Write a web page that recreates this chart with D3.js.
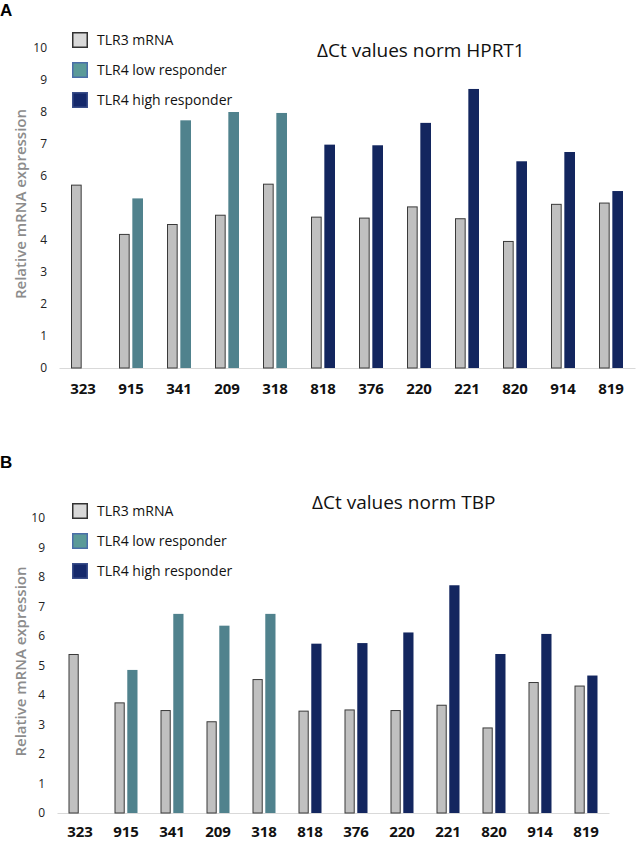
<!DOCTYPE html>
<html>
<head>
<meta charset="utf-8">
<script src="https://cdn.jsdelivr.net/npm/d3@7"></script>
<style>
  body { margin: 0; background: #fff; }
  text { font-family: "Open Sans", "Noto Sans", sans-serif; }
</style>
</head>
<body>
<div id="chart"></div>
<script>
// sample ids on the x axis
const samples = ["323", "915", "341", "209", "318", "818", "376", "220", "221", "820", "914", "819"];
// which TLR4 group each sample belongs to (323 has no TLR4 bar)
const responder = ["none", "low", "low", "low", "low", "high", "high", "high", "high", "high", "high", "high"];
// panel A: normalised to HPRT1
const tlr3Hprt = [5.73, 4.19, 4.50, 4.79, 5.76, 4.73, 4.70, 5.05, 4.68, 3.97, 5.13, 5.17];
const tlr4Hprt = [null, 5.30, 7.74, 8.00, 7.97, 6.98, 6.96, 7.66, 8.72, 6.46, 6.75, 5.53];
// panel B: normalised to TBP
const tlr3Tbp = [5.39, 3.75, 3.49, 3.11, 4.54, 3.47, 3.51, 3.49, 3.67, 2.90, 4.44, 4.32];
const tlr4Tbp = [null, 4.85, 6.75, 6.35, 6.75, 5.74, 5.76, 6.12, 7.72, 5.39, 6.07, 4.66];
const yTicks = [0, 1, 2, 3, 4, 5, 6, 7, 8, 9, 10];
const legendLabels = ["TLR3 mRNA", "TLR4 low responder", "TLR4 high responder"];

const width = 636, height = 843;
const svg = d3.select("#chart").append("svg")
  .attr("width", width).attr("height", height);

const barFill = { tlr3: "#c0c0c0", low: "#50828d", high: "#13265f" };
const legFill = ["#dadada", "#5b9a98", "#15296b"];
const legStroke = ["#333", "#4a6ea8", "#3a4e8a"];

const drawPanel = (cfg) => {
  let g = svg.append("g");
  let y = d3.scaleLinear().domain([0, 10]).range([cfg.y0, cfg.y10]);
  let x0 = d3.scaleBand().domain(samples).range([cfg.xl, cfg.xr])
    .paddingInner(0.5).paddingOuter(0.25);
  let x1 = d3.scaleBand().domain(["tlr3", "tlr4"]).range([0, x0.bandwidth()]).paddingInner(0.2);

  // panel letter
  g.append("text").attr("x", 0).attr("y", cfg.letterY)
    .style("font-family", "'Liberation Sans', Arial, sans-serif")
    .style("font-weight", "bold").style("font-size", "17px")
    .text(cfg.letter);

  // title
  g.append("text").attr("x", cfg.titleX).attr("y", cfg.titleY)
    .style("font-size", "19px").attr("fill", "#111")
    .text(cfg.title);

  // y axis (labels only)
  let yAxis = g.append("g").attr("transform", "translate(" + cfg.xl + ",0)")
    .call(d3.axisLeft(y).tickValues(yTicks).tickSize(0).tickPadding(12));
  yAxis.select(".domain").remove();
  yAxis.selectAll("text").style("font-size", "12px")
    .style("font-family", "'Open Sans', sans-serif").attr("fill", "#222");

  // x axis
  let xAxis = g.append("g").attr("transform", "translate(0," + cfg.y0 + ")")
    .call(d3.axisBottom(x0).tickSize(0).tickSizeOuter(0).tickPadding(cfg.xPad));
  xAxis.select(".domain").attr("stroke", "#d9d9d9").attr("stroke-width", 1.2);
  xAxis.selectAll("text").style("font-size", "15px").style("font-weight", "bold")
    .style("font-family", "'Open Sans', sans-serif")
    .attr("fill", "#111");

  // y axis title
  g.append("text")
    .attr("transform", "translate(" + cfg.labelX + "," + ((cfg.y0 + cfg.y10) / 2 - 4) + ") rotate(-90)")
    .attr("text-anchor", "middle").attr("dy", "0.35em")
    .style("font-size", "15px").style("font-weight", 600).attr("fill", "#8c8c8c")
    .text("Relative mRNA expression");

  // bars
  let groups = g.selectAll(".grp").data(samples).enter().append("g")
    .attr("class", "grp")
    .attr("transform", d => "translate(" + x0(d) + ",0)");
  groups.append("rect")
    .attr("x", x1("tlr3") + 0.5)
    .attr("y", (d, i) => y(cfg.tlr3[i]) + 0.5)
    .attr("width", x1.bandwidth() - 1)
    .attr("height", (d, i) => y(0) - y(cfg.tlr3[i]) - 0.5)
    .attr("fill", barFill.tlr3).attr("stroke", "#3a3a3a").attr("stroke-width", 1);
  groups.filter((d, i) => cfg.tlr4[i] !== null).append("rect")
    .attr("x", x1("tlr4"))
    .attr("y", d => y(cfg.tlr4[samples.indexOf(d)]))
    .attr("width", x1.bandwidth())
    .attr("height", d => y(0) - y(cfg.tlr4[samples.indexOf(d)]))
    .attr("fill", d => barFill[responder[samples.indexOf(d)]]);

  // legend
  let leg = g.selectAll(".leg").data(legendLabels).enter().append("g")
    .attr("class", "leg")
    .attr("transform", (d, i) => "translate(72," + (cfg.legY + i * 30) + ")");
  leg.append("rect").attr("x", 0.75).attr("y", -7.25).attr("width", 14.5).attr("height", 14.5)
    .attr("fill", (d, i) => legFill[i]).attr("stroke", (d, i) => legStroke[i]).attr("stroke-width", 1.5);
  leg.append("text").attr("x", 25).attr("dy", "0.35em")
    .style("font-size", "14px").attr("fill", "#111")
    .text(d => d);
};

drawPanel({
  letter: "A", letterY: 16, title: "\u0394Ct values norm HPRT1", titleX: 317, titleY: 57,
  y0: 368, y10: 48, xl: 59, xr: 635, labelX: 21, legY: 40, xPad: 15,
  tlr3: tlr3Hprt, tlr4: tlr4Hprt
});
drawPanel({
  letter: "B", letterY: 468, title: "\u0394Ct values norm TBP", titleX: 312, titleY: 509,
  y0: 813, y10: 518, xl: 57, xr: 609, labelX: 21, legY: 511, xPad: 13,
  tlr3: tlr3Tbp, tlr4: tlr4Tbp
});
</script>
</body>
</html>
